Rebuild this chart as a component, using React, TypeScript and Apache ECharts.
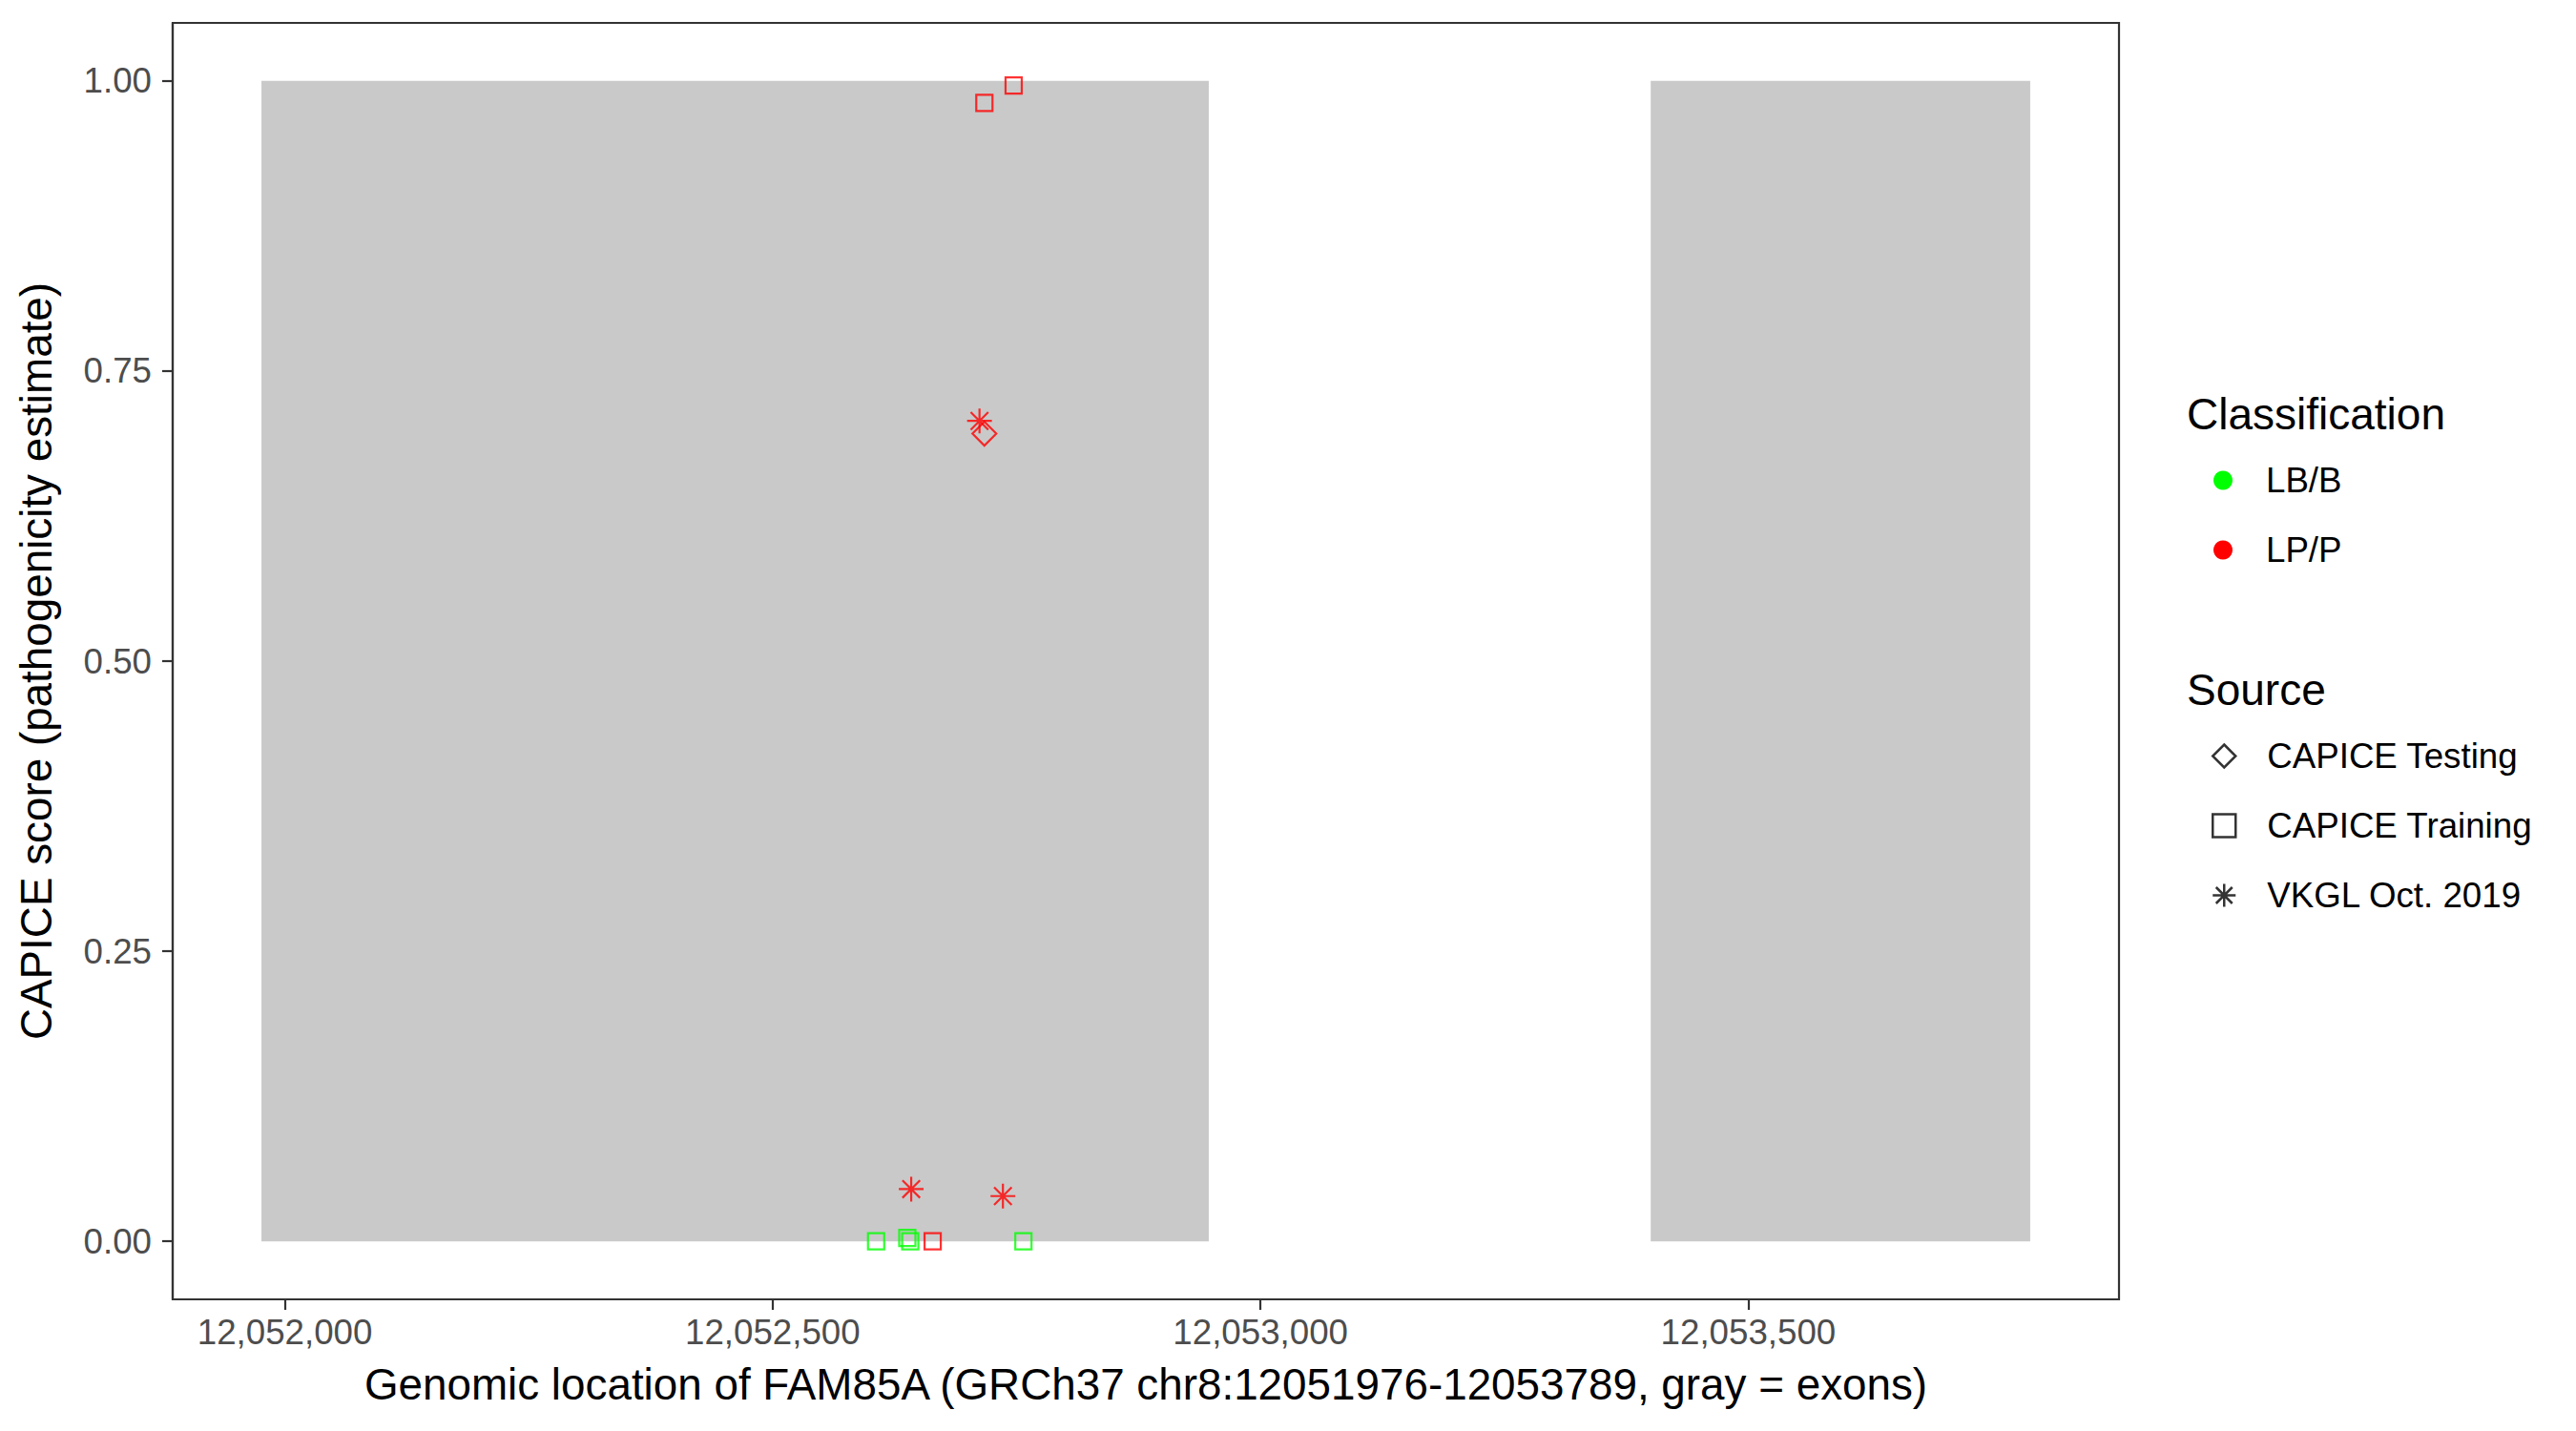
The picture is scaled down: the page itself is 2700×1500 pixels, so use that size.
import React, { useEffect, useRef } from "react";
import * as echarts from "echarts";

// ---- Data ----
const xTicks = [12052000, 12052500, 12053000, 12053500];
const yTicks = [0, 0.25, 0.5, 0.75, 1];
const xMin = 12051885;
const xMax = 12053880;

const exonStart = [12051976, 12053400];
const exonEnd = [12052947, 12053789];

const classNames = ["LB/B", "LP/P"];
const classColors = ["#00FF00", "#FF0000"];

const sourceNames = ["CAPICE Testing", "CAPICE Training", "VKGL Oct. 2019"];

const testingPos = [12052717];
const testingScore = [0.696];
const testingClass = ["LP/P"];

const trainingPos = [12052606, 12052641, 12052638, 12052664, 12052757, 12052717, 12052747];
const trainingScore = [0.0, 0.0, 0.003, 0.0, 0.0, 0.981, 0.996];
const trainingClass = ["LB/B", "LB/B", "LB/B", "LP/P", "LB/B", "LP/P", "LP/P"];

const vkglPos = [12052642, 12052736, 12052712];
const vkglScore = [0.045, 0.039, 0.707];
const vkglClass = ["LP/P", "LP/P", "LP/P"];

const STAR = "path://M50 0L50 100M0 50L100 50M14.6 14.6L85.4 85.4M85.4 14.6L14.6 85.4";
const FONT = "Liberation Sans, Arial, Helvetica, sans-serif";

function colorOf(c: string) {
  return classColors[classNames.indexOf(c)];
}

function pts(pos: number[], score: number[], cls: string[]) {
  return pos.map((x, i) => ({
    value: [x, score[i]],
    itemStyle: { borderColor: colorOf(cls[i]) },
  }));
}

export default function App() {
  const ref = useRef<HTMLDivElement>(null);
  useEffect(() => {
    if (!ref.current) return;
    const chart = echarts.init(ref.current, undefined, { renderer: "svg" });
    const hollow = { color: "transparent", borderWidth: 2.2 };
    const legendHollow = { color: "transparent", borderColor: "#000000", borderWidth: 2.5 };
    chart.setOption({
      animation: false,
      backgroundColor: "#ffffff",
      textStyle: { fontFamily: FONT },
      title: [
        {
          text: "Classification",
          left: 2292,
          top: 411,
          padding: 0,
          textStyle: { fontFamily: FONT, fontSize: 46, fontWeight: "normal", color: "#000" },
        },
        {
          text: "Source",
          left: 2292,
          top: 700,
          padding: 0,
          textStyle: { fontFamily: FONT, fontSize: 46, fontWeight: "normal", color: "#000" },
        },
      ],
      legend: [
        {
          orient: "vertical",
          left: 2320,
          top: 485,
          padding: 0,
          itemWidth: 20,
          itemHeight: 20,
          itemGap: 36,
          selectedMode: false,
          textStyle: { fontFamily: FONT, fontSize: 36.7, color: "#000", padding: [0, 0, 0, 30] },
          data: classNames.map((n, i) => ({ name: n, icon: "circle", itemStyle: { color: classColors[i], opacity: 1 } })),
        },
        {
          orient: "vertical",
          left: 2318,
          top: 774,
          padding: 0,
          itemWidth: 24,
          itemHeight: 24,
          itemGap: 36,
          selectedMode: false,
          textStyle: { fontFamily: FONT, fontSize: 36.7, color: "#000", padding: [0, 0, 0, 28] },
          data: [
            { name: sourceNames[0], icon: "diamond", itemStyle: legendHollow },
            { name: sourceNames[1], icon: "path://M14 14L86 14L86 86L14 86Z", itemStyle: legendHollow },
            { name: sourceNames[2], icon: STAR, itemStyle: legendHollow },
          ],
        },
      ],
      grid: {
        left: 181,
        right: 479,
        top: 24,
        bottom: 138,
        show: true,
        borderColor: "#333333",
        borderWidth: 2.2,
        backgroundColor: "#ffffff",
      },
      xAxis: {
        type: "value",
        min: xMin,
        max: xMax,
        name: "Genomic location of FAM85A (GRCh37 chr8:12051976-12053789, gray = exons)",
        nameLocation: "middle",
        nameGap: 66,
        nameTextStyle: { fontFamily: FONT, fontSize: 45.8, color: "#000" },
        axisLine: { show: true, onZero: false, lineStyle: { color: "#333333", width: 2.2 } },
        axisTick: { show: true, length: 11, lineStyle: { color: "#333333", width: 2.2 }, customValues: xTicks },
        axisLabel: {
          margin: 16,
          fontFamily: FONT,
          fontSize: 36.7,
          color: "#4D4D4D",
          customValues: xTicks,
          formatter: (v: number) => v.toLocaleString("en-US"),
        },
        splitLine: { show: false },
      },
      yAxis: {
        type: "value",
        min: -0.05,
        max: 1.05,
        name: "CAPICE score (pathogenicity estimate)",
        nameLocation: "middle",
        nameGap: 120,
        nameTextStyle: { fontFamily: FONT, fontSize: 45.8, color: "#000" },
        axisLine: { show: true, onZero: false, lineStyle: { color: "#333333", width: 2.2 } },
        axisTick: { show: true, length: 11, lineStyle: { color: "#333333", width: 2.2 }, customValues: yTicks },
        axisLabel: {
          margin: 22,
          fontFamily: FONT,
          fontSize: 36.7,
          color: "#4D4D4D",
          customValues: yTicks,
          formatter: (v: number) => v.toFixed(2),
        },
        splitLine: { show: false },
      },
      series: [
        {
          type: "custom",
          name: "exons",
          silent: true,
          z: 1,
          encode: { x: [0, 1] },
          data: exonStart.map((s, i) => [s, exonEnd[i]]),
          renderItem: (params: any, api: any) => {
            const p1 = api.coord([api.value(0), 1]);
            const p2 = api.coord([api.value(1), 0]);
            return {
              type: "rect",
              shape: { x: p1[0], y: p1[1], width: p2[0] - p1[0], height: p2[1] - p1[1] },
              style: { fill: "#C9C9C9" },
            };
          },
        },
        { type: "scatter", name: classNames[0], data: [], itemStyle: { color: classColors[0] }, symbol: "circle" },
        { type: "scatter", name: classNames[1], data: [], itemStyle: { color: classColors[1] }, symbol: "circle" },
        {
          type: "scatter",
          name: sourceNames[1],
          symbol: "rect",
          symbolSize: 17,
          z: 3,
          itemStyle: hollow,
          data: pts(trainingPos, trainingScore, trainingClass),
        },
        {
          type: "scatter",
          name: sourceNames[0],
          symbol: "diamond",
          symbolSize: 25,
          z: 3,
          itemStyle: hollow,
          data: pts(testingPos, testingScore, testingClass),
        },
        {
          type: "scatter",
          name: sourceNames[2],
          symbol: STAR,
          symbolSize: 26,
          z: 3,
          itemStyle: hollow,
          data: pts(vkglPos, vkglScore, vkglClass),
        },
      ],
    });
    return () => chart.dispose();
  }, []);
  return (
    <div
      ref={ref}
      style={{ position: "absolute", left: 0, top: 0, width: 2700, height: 1500, background: "#fff" }}
    />
  );
}
